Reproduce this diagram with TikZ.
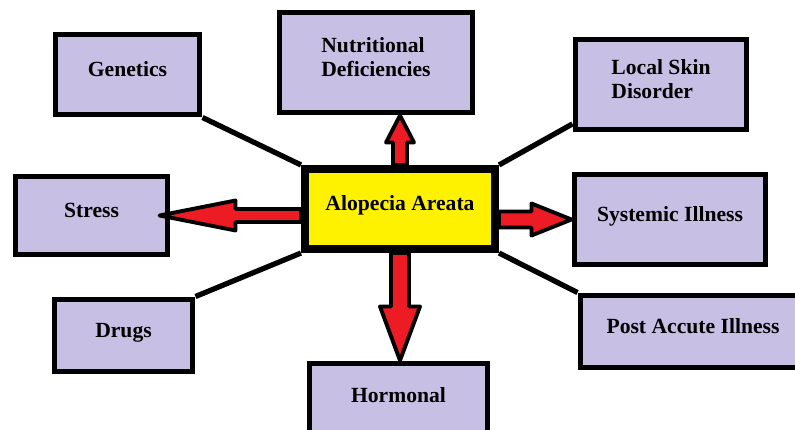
\documentclass[tikz,border=0pt]{standalone}
\usepackage{fontspec}
\setmainfont{Liberation Serif}[BoldFont={Liberation Serif Bold}]
\newfontfamily\causefont{Liberation Serif Bold}
\usetikzlibrary{calc}
\definecolor{lavbox}{RGB}{199,192,228}
\definecolor{hubyel}{RGB}{255,242,0}
\definecolor{arrred}{RGB}{237,28,36}
\tikzset{
  cause/.style  = {draw, line width=3.4pt, fill=lavbox, align=center, inner sep=2pt,
                   text depth=0.22cm, font=\fontsize{12.3}{14}\causefont},
  hub/.style    = {cause, fill=hubyel, line width=4.6pt},
  link/.style   = {line width=3pt},
  fatarr/.style = {draw, fill=arrred, line width=2.2pt, line join=round}
}
% block arrow: from, tip, head length, shaft half width, head half width
\newcommand{\fatarrow}[5]{%
  \path ($(#2)!#3!(#1)$) coordinate (hb);
  \draw[fatarr] ($(#1)!#4!90:(#2)$) -- ($(hb)!#4!-90:(#1)$) -- ($(hb)!#5!-90:(#1)$) -- (#2)
    -- ($(hb)!#5!90:(#1)$) -- ($(hb)!#4!90:(#1)$) -- ($(#1)!#4!-90:(#2)$) -- cycle;
}

\begin{document}
\begin{tikzpicture}[x=1cm, y=1cm]
\useasboundingbox (0,0) rectangle (15.9,8.6);

\node[hub, minimum width=3.80cm, minimum height=1.60cm] (aa) at (8.00, 4.42) {Alopecia Areata};

\node[cause, minimum width=2.88cm, minimum height=1.60cm] (gen)    at (2.55, 7.11) {Genetics};
\node[cause, minimum width=3.86cm, minimum height=2.00cm, align=left] (nutr) at (7.52, 7.35)
      {Nutritional\\Deficiencies};
\node[cause, minimum width=3.42cm, minimum height=1.80cm, align=left, xshift=0cm] (skin) at (13.22, 6.91)
      {Local Skin\\Disorder};
\node[cause, minimum width=3.04cm, minimum height=1.56cm] (stress) at (1.83, 4.29) {Stress};
\node[cause, minimum width=3.82cm, minimum height=1.80cm] (sys)    at (13.40, 4.21) {Systemic Illness};
\node[cause, minimum width=2.76cm, minimum height=1.44cm] (drugs)  at (2.47, 1.89) {Drugs};
\node[cause, minimum width=3.56cm, minimum height=1.48cm] (horm)   at (7.97, 0.59) {Hormonal};
\node[cause, minimum width=4.50cm, minimum height=1.44cm] (post)   at (13.86, 1.97) {Post Accute Illness};

% plain links
\draw[link] (gen.south east) -- (aa.north west);
\draw[link] (skin.204) -- (aa.north east);
\draw[link] (drugs.north east) -- (aa.south west);
\draw[link] (post.north west) -- (aa.south east);

% block arrows
\fatarrow{aa.north}{aa.north |- nutr.south}{0.54cm}{0.14cm}{0.28cm}
\fatarrow{aa.west |- stress.east}{$(stress.east)+(-0.22,0)$}{1.52cm}{0.13cm}{0.30cm}
\fatarrow{aa.east |- sys.west}{sys.west}{0.80cm}{0.16cm}{0.32cm}
\fatarrow{aa.south}{aa.south |- horm.north}{1.08cm}{0.18cm}{0.40cm}
\end{tikzpicture}
\end{document}
